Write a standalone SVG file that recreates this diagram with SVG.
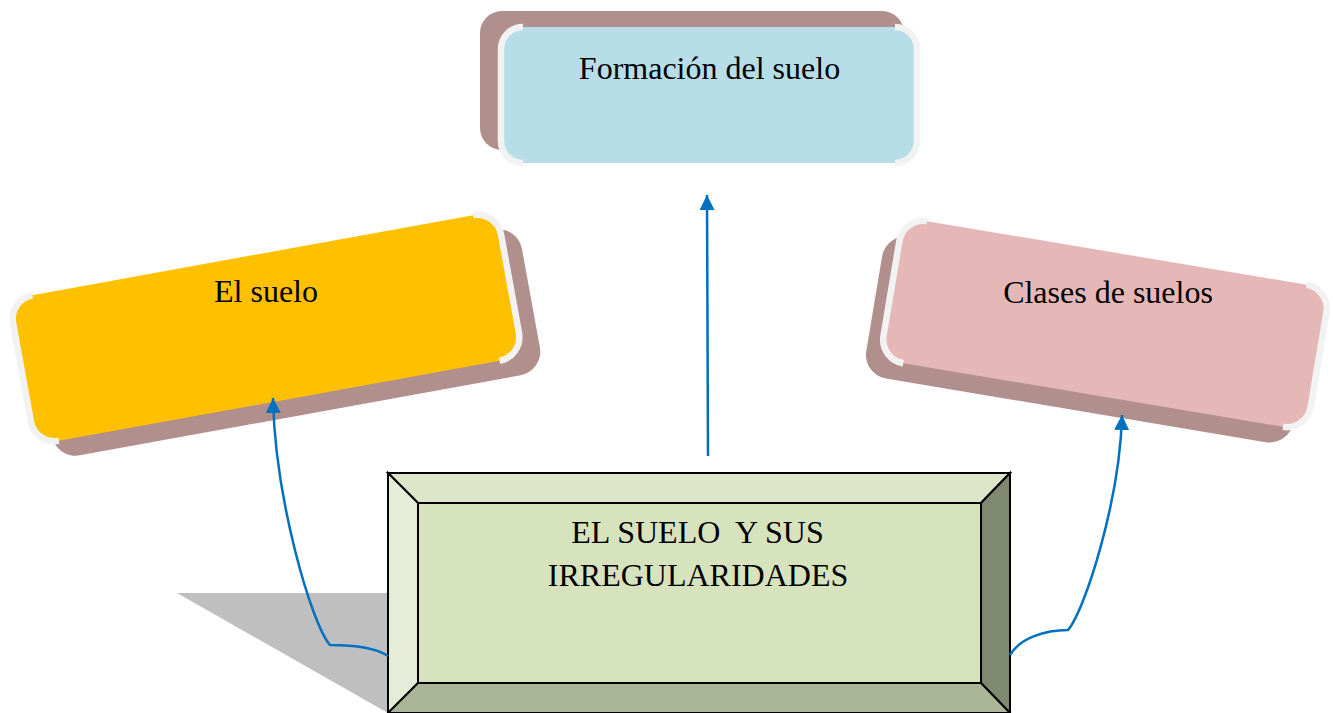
<svg xmlns="http://www.w3.org/2000/svg" width="1333" height="713" viewBox="0 0 1333 713">
<defs>
<style>
.lbl{font-family:"Liberation Serif","Times New Roman",serif;font-size:32px;fill:#000;text-anchor:middle;white-space:pre}
.shadow{fill:#B08F8C}
.brk{fill:none;stroke:#F2F2F2;stroke-width:6.5;stroke-linecap:butt}
.bev{stroke:#000;stroke-width:2;stroke-linejoin:miter}
.conn{fill:none;stroke:#0070C0;stroke-width:2.5}
</style>
<marker id="arr" markerUnits="userSpaceOnUse" markerWidth="16" markerHeight="16" refX="15" refY="7.5" orient="auto">
<path d="M0,0 L15,7.5 L0,15 Z" fill="#0070C0"/>
</marker>
</defs>
<rect width="1333" height="713" fill="#fff"/>

<g id="node-formacion">
<rect class="shadow" x="480" y="11" width="424" height="139" rx="22"/>
<rect x="501" y="27" width="416" height="136" rx="22" fill="#B7DEE8"/>
<path class="brk" d="M523,27 A22,22 0 0 0 501,49 L501,141 A22,22 0 0 0 523,163"/>
<path class="brk" d="M895,27 A22,22 0 0 1 917,49 L917,141 A22,22 0 0 1 895,163"/>
<text class="lbl" x="709.5" y="79">Formación del suelo</text>
</g>

<g id="node-elsuelo">
<g transform="translate(266,328) rotate(-10.3)">
<rect class="shadow" x="-230" y="-56" width="496" height="148" rx="24"/>
<rect x="-248" y="-74" width="496" height="148" rx="24" fill="#FFC000"/>
<path class="brk" d="M-224,-74 A24,24 0 0 0 -248,-50 L-248,50 A24,24 0 0 0 -224,74"/>
<path class="brk" d="M224,-74 A24,24 0 0 1 248,-50 L248,50 A24,24 0 0 1 224,74"/>
</g>
<text class="lbl" x="266" y="302">El suelo</text>
</g>

<g id="node-clases">
<g transform="translate(1105,324) rotate(9.5)">
<rect class="shadow" x="-231" y="-54" width="433" height="144" rx="24"/>
<rect x="-216.5" y="-72" width="433" height="144" rx="24" fill="#E5B7B7"/>
<path class="brk" d="M-192.5,-72 A24,24 0 0 0 -216.5,-48 L-216.5,48 A24,24 0 0 0 -192.5,72"/>
<path class="brk" d="M192.5,-72 A24,24 0 0 1 216.5,-48 L216.5,48 A24,24 0 0 1 192.5,72"/>
</g>
<text class="lbl" x="1108" y="303">Clases de suelos</text>
</g>

<g id="node-main">
<polygon points="177,593 388,593 388,713" fill="#BFBFBF"/>
<polygon class="bev" points="388,473 1010,473 981,503 418,503" fill="#DEE6CA"/>
<polygon class="bev" points="388,473 418,503 418,683 388,713" fill="#E5ECD7"/>
<polygon class="bev" points="1010,473 1010,713 981,683 981,503" fill="#7F8970"/>
<polygon class="bev" points="388,713 418,683 981,683 1010,713" fill="#ABB597"/>
<rect class="bev" x="418" y="503" width="563" height="180" fill="#D7E3BC"/>
<text class="lbl" x="697.5" y="543">EL SUELO  Y SUS</text>
<text class="lbl" x="698" y="586">IRREGULARIDADES</text>
</g>

<g id="connectors">
<path class="conn" marker-end="url(#arr)" d="M708,456 L707,195"/>
<path class="conn" marker-end="url(#arr)" d="M388,656 C376,648 356,645 330,645 C312,625 275,500 273,398"/>
<path class="conn" marker-end="url(#arr)" d="M1010,655 C1020,638 1045,630 1068,630 C1085,610 1120,500 1122,415"/>
</g>
</svg>
